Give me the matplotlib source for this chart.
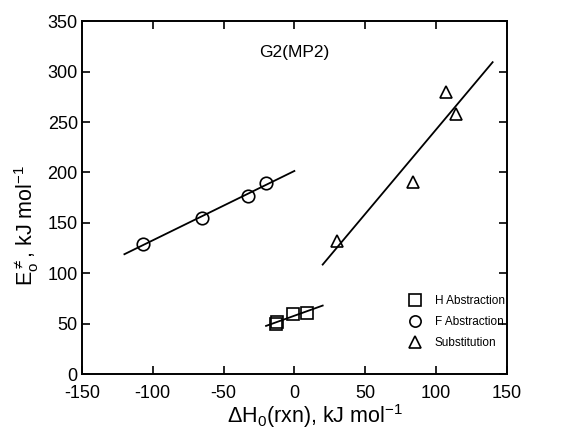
import matplotlib
matplotlib.use('Agg')
import matplotlib.pyplot as plt
import numpy as np

plt.rcParams['font.family'] = ['Liberation Sans', 'DejaVu Sans']
plt.rcParams['mathtext.fontset'] = 'custom'
plt.rcParams['mathtext.rm'] = 'Liberation Sans'
plt.rcParams['mathtext.it'] = 'Liberation Sans:italic'
plt.rcParams['mathtext.sf'] = 'Liberation Sans'
plt.rcParams['axes.unicode_minus'] = False

# H abstraction
h_x = [-13, -12, -1, 9]
h_y = [50, 52, 60, 61]
h_range = [-20, 20]

# F abstraction
f_x = [-107, -65, -33, -20]
f_y = [129, 155, 177, 190]
f_range = [-120, 0]

# substitution
s_x = [30, 84, 107, 114]
s_y = [132, 191, 280, 258]
s_range = [20, 140]

fig = plt.figure(figsize=(5.65, 4.32), dpi=100)
ax = fig.add_axes([0.145, 0.134, 0.752, 0.817])

series = [
    (h_x, h_y, h_range, 's', 'H Abstraction'),
    (f_x, f_y, f_range, 'o', 'F Abstraction'),
    (s_x, s_y, s_range, '^', 'Substitution'),
]
for xs, ys, rng, m, lab in series:
    # linear fit drawn over the given span
    a, b = np.polyfit(xs, ys, 1)
    xx = np.array(rng)
    ax.plot(xx, a * xx + b, color='black', lw=1.3)
    ax.plot(xs, ys, linestyle='none', marker=m, markersize=9,
            markerfacecolor='none', markeredgecolor='black',
            markeredgewidth=1.2, label=lab)

ax.set_xlim(-150, 150)
ax.set_ylim(0, 350)
ax.set_xticks(np.arange(-150, 151, 50))
ax.set_yticks(np.arange(0, 351, 50))
ax.tick_params(direction='in', top=True, right=True, length=6, width=1.2,
               labelsize=13, pad=3)
ax.tick_params(axis='x', pad=7.5)
for sp in ax.spines.values():
    sp.set_linewidth(1.4)

ax.set_xlabel(r'$\Delta$H$_0$(rxn), kJ mol$^{-1}$', fontsize=15.5)
ax.set_ylabel(r'E$_\mathrm{o}^{\neq}$, kJ mol$^{-1}$', fontsize=15.5)
ax.xaxis.set_label_coords(0.548, -0.078)
ax.yaxis.set_label_coords(-0.097, 0.42)

ax.text(0, 319, 'G2(MP2)', fontsize=12.5, ha='center', va='center')

ax.legend(loc='upper left', bbox_to_anchor=(0.755, 0.24), frameon=False,
          fontsize=8.5, handlelength=1.0, handletextpad=1.2,
          labelspacing=0.75, borderpad=0, markerscale=0.9)

fig.savefig('out.png', dpi=100)
